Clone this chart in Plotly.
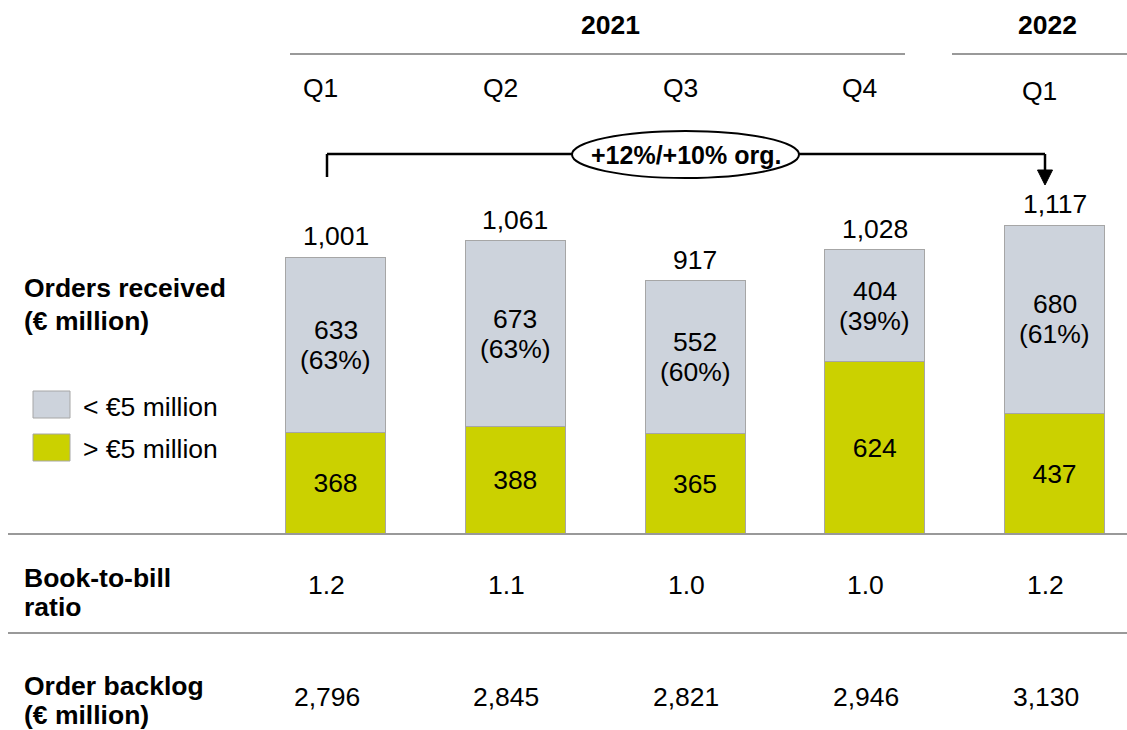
import plotly.graph_objects as go

# ---- data ----
categories = ["Q1 2021", "Q2 2021", "Q3 2021", "Q4 2021", "Q1 2022"]
quarter_labels = ["Q1", "Q2", "Q3", "Q4", "Q1"]
small_orders = [633, 673, 552, 404, 680]      # < €5 million
large_orders = [368, 388, 365, 624, 437]      # > €5 million
totals = [1001, 1061, 917, 1028, 1117]
small_pct = [63, 63, 60, 39, 61]
book_to_bill = ["1.2", "1.1", "1.0", "1.0", "1.2"]
backlog = ["2,796", "2,845", "2,821", "2,946", "3,130"]
growth_label = "+12%/+10% org."

W, H = 1127, 730
FONT = "Liberation Sans, Arial, sans-serif"
GRAY = "#CDD3DC"
GREEN = "#CBD100"
EDGE = "#A6A6A6"
RULE = "#999999"
FS = 26.5

def py(p):
    return 1 - p / H

def px(p):
    return p / W

def font(size=FS):
    return dict(family=FONT, size=size, color="black")

fig = go.Figure()
fig.add_trace(go.Bar(
    x=categories, y=large_orders, name="> €5 million",
    marker=dict(color=GREEN, line=dict(color=EDGE, width=1)),
    text=[str(v) for v in large_orders], textposition="inside",
    insidetextanchor="middle", textangle=0, textfont=font(),
))
fig.add_trace(go.Bar(
    x=categories, y=small_orders, name="< €5 million",
    marker=dict(color=GRAY, line=dict(color=EDGE, width=1)),
))

ann = []
shapes = []
col_shift = -9

def add_text(x, y, text, xref="paper", yref="paper", xanchor="center", **kw):
    ann.append(dict(x=x, y=y, xref=xref, yref=yref, text=text, showarrow=False,
                    xanchor=xanchor, yanchor="middle", font=kw.pop("font", font()), **kw))

# labels in the < €5 million segments
for c, lo, s, p in zip(categories, large_orders, small_orders, small_pct):
    mid = lo + s / 2
    add_text(c, mid, str(s), xref="x", yref="y", yshift=15)
    add_text(c, mid, f"({p}%)", xref="x", yref="y", yshift=-15)

# totals above bars
for c, t in zip(categories, totals):
    add_text(c, t, f"{t:,}", xref="x", yref="y", yshift=21)

# quarter labels
for i, (c, q) in enumerate(zip(categories, quarter_labels)):
    add_text(c, py(91 if i == 4 else 88), q, xref="x", xshift=col_shift - 6)

# year headers
add_text(px(610), py(25), "<b>2021</b>")
add_text(px(1047), py(25), "<b>2022</b>")
shapes.append(dict(type="line", xref="paper", yref="paper", x0=px(290), x1=px(905),
                   y0=py(54), y1=py(54), line=dict(color=RULE, width=2)))
shapes.append(dict(type="line", xref="paper", yref="paper", x0=px(952), x1=px(1127),
                   y0=py(54), y1=py(54), line=dict(color=RULE, width=2)))

# row values
for c, b, k in zip(categories, book_to_bill, backlog):
    add_text(c, py(585), b, xref="x", xshift=col_shift)
    add_text(c, py(697), k, xref="x", xshift=col_shift)

# row labels
for txt, y in [("<b>Orders received</b>", 288), ("<b>(€ million)</b>", 321),
               ("<b>Book-to-bill</b>", 578), ("<b>ratio</b>", 607),
               ("<b>Order backlog</b>", 686), ("<b>(€ million)</b>", 715)]:
    add_text(px(22), py(y), txt, xanchor="left")

# separators
for y in [534, 633]:
    shapes.append(dict(type="line", xref="paper", yref="paper", x0=px(8), x1=1,
                       y0=py(y), y1=py(y), line=dict(color=RULE, width=2)))

# legend (manual)
shapes.append(dict(type="rect", xref="paper", yref="paper", x0=px(33), x1=px(70),
                   y0=py(391), y1=py(418), fillcolor=GRAY, line=dict(color=EDGE, width=1)))
shapes.append(dict(type="rect", xref="paper", yref="paper", x0=px(33), x1=px(70),
                   y0=py(434), y1=py(461), fillcolor=GREEN, line=dict(color=EDGE, width=1)))
add_text(px(81), py(407), "< €5 million", xanchor="left")
add_text(px(81), py(449), "> €5 million", xanchor="left")

# growth bracket
BK = dict(color="black", width=2.5)
shapes.append(dict(type="line", xref="paper", yref="paper", x0=px(327), x1=px(327),
                   y0=py(154), y1=py(177), line=BK, layer="below"))
shapes.append(dict(type="line", xref="paper", yref="paper", x0=px(327), x1=px(1045),
                   y0=py(154), y1=py(154), line=BK, layer="below"))
shapes.append(dict(type="line", xref="paper", yref="paper", x0=px(1045), x1=px(1045),
                   y0=py(154), y1=py(172), line=BK, layer="below"))
shapes.append(dict(type="path", xref="paper", yref="paper",
                   path=f"M {px(1037.5)} {py(170)} L {px(1052.5)} {py(170)} L {px(1045)} {py(185)} Z",
                   fillcolor="black", line=dict(color="black", width=1), layer="below"))
shapes.append(dict(type="circle", xref="paper", yref="paper", x0=px(572), x1=px(799),
                   y0=py(131), y1=py(178), fillcolor="white",
                   line=dict(color="black", width=2), layer="below"))
add_text(px(686), py(155), f"<b>{growth_label}</b>", font=font(25))

step = 179.75
x0c = 335.5
fig.update_layout(
    width=W, height=H, barmode="stack", bargap=1 - 100 / step,
    margin=dict(l=0, r=0, t=0, b=0, autoexpand=False), showlegend=False,
    plot_bgcolor="rgba(0,0,0,0)", paper_bgcolor="white",
    xaxis=dict(range=[-x0c / step, (W - x0c) / step], visible=False, type="category"),
    yaxis=dict(range=[-196 / 0.2763, 534 / 0.2763], visible=False),
    annotations=ann, shapes=shapes,
    font=dict(family=FONT),
)
fig.write_html("out.html", post_script="document.body.style.margin='0';",
               config={"displayModeBar": False})
